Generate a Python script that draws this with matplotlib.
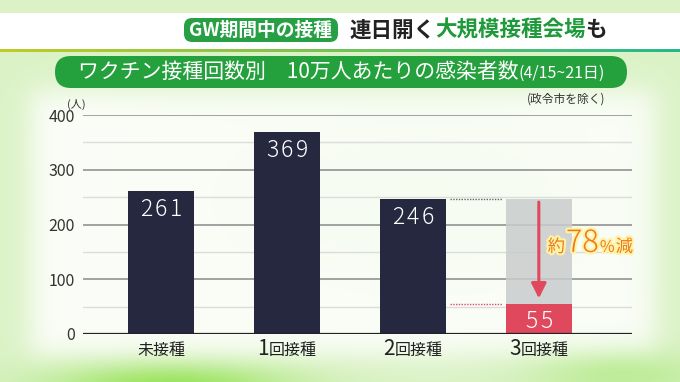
import numpy as np
import matplotlib
matplotlib.use("Agg")
import matplotlib.pyplot as plt
from matplotlib.patches import FancyBboxPatch, Rectangle
import matplotlib.patheffects as pe

plt.rcParams['font.family'] = ['Noto Sans CJK JP', 'DejaVu Sans']

# ---------------- data ----------------
categories = ['未接種', '1回接種', '2回接種', '3回接種']
values = [261, 369, 246, 55]
reference_value = 246          # 2回接種 level shown as grey ghost bar
yticks = [0, 100, 200, 300, 400]
minor_ticks = [50, 150, 250, 350]
reduction_pct = '78'
header_tag = 'GW期間中の接種'
header_parts = [('連日開く', '#222222'), ('大規模接種会場', '#1f9a3a'), ('も', '#222222')]
title_main = 'ワクチン接種回数別　10万人あたりの感染者数'
title_sub = '(4/15~21日)'
note = '(政令市を除く)'
unit = '(人)'

W, H = 680, 382
fig = plt.figure(figsize=(W / 100, H / 100), dpi=100)
renderer = fig.canvas.get_renderer()

def fx(px):
    return px / W
def fy(py):
    return 1 - py / H

def rich(x_px, y_px, pieces, ha='left', zorder=5, effects=None, gap=0.0):
    """pieces: list of (text, fontsize, color, weight). baseline at y_px (pixels from top)."""
    arts = []
    for s, fs, col, wt in pieces:
        t = fig.text(0, fy(y_px), s, fontsize=fs, color=col, fontweight=wt,
                     va='baseline', ha='left', zorder=zorder)
        if effects:
            t.set_path_effects(effects)
        arts.append(t)
    widths = [a.get_window_extent(renderer).width for a in arts]
    total = sum(widths) + gap * (len(arts) - 1)
    start = x_px if ha == 'left' else (x_px - total / 2 if ha == 'center' else x_px - total)
    cur = start
    for a, w in zip(arts, widths):
        a.set_x(fx(cur))
        cur += w + gap
    return arts

# ---------------- background ----------------
bg = fig.add_axes([0, 0, 1, 1], zorder=-10)
bg.axis('off')
yy, xx = np.mgrid[0:H, 0:W]
def smooth_box(x0, x1, y0, y1, s):
    gx = 1 / (1 + np.exp(-(xx - x0) / s)) * 1 / (1 + np.exp((xx - x1) / s))
    gy = 1 / (1 + np.exp(-(yy - y0) / s)) * 1 / (1 + np.exp((yy - y1) / s))
    return gx * gy
img = np.ones((H, W, 3)) * np.array([0.86, 0.95, 0.78])
panel = smooth_box(30, 655, 90, 356, 8)
white = np.array([0.985, 0.995, 0.975])
img = img * (1 - panel[..., None]) + white * panel[..., None]
tint = np.exp(-(((xx - 420) / 260) ** 2 + ((yy - 200) / 120) ** 2))
img = img * (1 - 0.12 * tint[..., None]) + np.array([0.85, 0.95, 0.75]) * 0.12 * tint[..., None]
blob = np.exp(-(((xx - 170) / 120) ** 2 + ((yy - 385) / 22) ** 2))
img = img * (1 - 0.8 * blob[..., None]) + np.array([0.55, 0.88, 0.28]) * 0.8 * blob[..., None]
blob2 = np.exp(-(((xx - 620) / 90) ** 2 + ((yy - 375) / 25) ** 2))
img = img * (1 - 0.5 * blob2[..., None]) + np.array([0.62, 0.90, 0.40]) * 0.5 * blob2[..., None]
bg.imshow(np.clip(img, 0, 1), extent=[0, 1, 0, 1], aspect='auto', origin='upper')
bg.set_xlim(0, 1); bg.set_ylim(0, 1)

# header white band
fig.patches.append(Rectangle((0, fy(49)), 1, (49 - 13) / H, transform=fig.transFigure,
                             facecolor='white', edgecolor='none', zorder=1))
# gradient line under header
t = np.linspace(0, 1, 200)
line_img = (np.outer(1 - t, [0.75, 0.80, 0.15]) + np.outer(t, [0.15, 0.72, 0.55]))[None, :, :]
lax = fig.add_axes([0, fy(52), 1, 3 / H], zorder=2)
lax.axis('off')
lax.imshow(line_img, extent=[0, 1, 0, 1], aspect='auto')

# header green tag
fig.patches.append(FancyBboxPatch((fx(184), fy(42)), fx(338) - fx(184), (42 - 18) / H,
                                  boxstyle='round,pad=0,rounding_size=0.012',
                                  transform=fig.transFigure, facecolor='#27a045',
                                  edgecolor='none', zorder=3, mutation_aspect=W / H))
fig.text(fx(261), fy(30), header_tag, color='white', fontsize=13.5, fontweight='bold',
         ha='center', va='center', zorder=4)
rich(349, 36.5, [(s, 15.5, c, 'bold') for s, c in header_parts], ha='left', zorder=4)

# title pill
fig.patches.append(FancyBboxPatch((fx(55), fy(88)), fx(627) - fx(55), (88 - 56) / H,
                                  boxstyle='round,pad=0,rounding_size=0.0235',
                                  transform=fig.transFigure, facecolor='#24a03c',
                                  edgecolor='none', zorder=3, mutation_aspect=W / H))
rich(341, 78, [(title_main, 15, 'white', 'normal'), (title_sub, 11.5, 'white', 'normal')],
     ha='center', zorder=4)

fig.text(fx(605), fy(99), note, fontsize=8.5, color='#333333', ha='right', va='center')
fig.text(fx(76), fy(104), unit, fontsize=8, color='#333333', ha='center', va='center')

# ---------------- main axes ----------------
ax = fig.add_axes([fx(83), fy(334), fx(632) - fx(83), (334 - 115) / H])
ax.set_facecolor('none')
x = np.arange(len(categories))
bar_w = 0.525
ax.set_xlim(-0.62, 3.74)
ax.set_ylim(0, 400)

for yv in minor_ticks:
    ax.axhline(yv, color='#dcdcdc', lw=1.0, zorder=0)
for yv in yticks[1:]:
    ax.axhline(yv, color='#8a8a8a', lw=1.1, zorder=0)
ax.axhline(0, color='#222222', lw=1.6, zorder=5)

ax.bar(x[3], reference_value, width=bar_w, color='#c9cccd', alpha=0.85, zorder=1)
colors = ['#262840', '#262840', '#262840', '#e0485d']
ax.bar(x, values, width=bar_w, color=colors, zorder=2)

# dotted guide lines
gx = [x[2] + bar_w / 2 + 0.03, x[3] - bar_w / 2 - 0.03]
ax.plot(gx, [reference_value] * 2, ls=(0, (1, 1)), color='#666666', lw=1.0, zorder=3)
ax.plot(gx, [values[3]] * 2, ls=(0, (1, 1)), color='#e0485d', lw=1.0, zorder=3)

# arrow
ax.annotate('', xy=(x[3], values[3] + 10), xytext=(x[3], reference_value - 5),
            arrowprops=dict(arrowstyle='-|>,head_width=0.45,head_length=0.9',
                            color='#e0485d', lw=2.2, shrinkA=0, shrinkB=0), zorder=4)

ax.set_yticks(yticks)
ax.set_yticklabels([str(v) for v in yticks], fontsize=11.5, color='#333333')
ax.set_xticks(x)
ax.set_xticklabels([''] * len(categories))
ax.tick_params(length=0, pad=6)
for s in ax.spines.values():
    s.set_visible(False)

# texts positioned in pixel coords derived from the data transform
fig.canvas.draw()
def data_to_px(xd, yd):
    dx, dy = ax.transData.transform((xd, yd))
    return dx, H - dy

# value labels with slight letter spacing
for xi, v in zip(x, values):
    yv = v - 45 if v > 100 else v / 2 - 16
    cx, cy = data_to_px(xi, yv)
    rich(cx, cy, [(d, 16.5, 'white', 'light') for d in str(v)], ha='center', zorder=8, gap=2.5)

rx, ry = data_to_px(x[3] + 0.07, 150)
rich(rx, ry, [('約', 12.5, '#ee7a20', 'normal'), (reduction_pct, 22, '#ee7a20', 'light'),
              ('%', 11.5, '#ee7a20', 'normal'), ('減', 12.5, '#ee7a20', 'normal')],
     ha='left', zorder=8, effects=[pe.withStroke(linewidth=3, foreground='#fff3a6')], gap=1)

for xi, cat in zip(x, categories):
    cx, _ = data_to_px(xi, 0)
    if cat[0].isdigit():
        pieces = [(cat[0], 15, '#222222', 'normal'), (cat[1:], 11.5, '#222222', 'normal')]
    else:
        pieces = [(cat, 11.5, '#222222', 'normal')]
    rich(cx, 355, pieces, ha='center', zorder=5)

fig.savefig('out.png', dpi=100)
